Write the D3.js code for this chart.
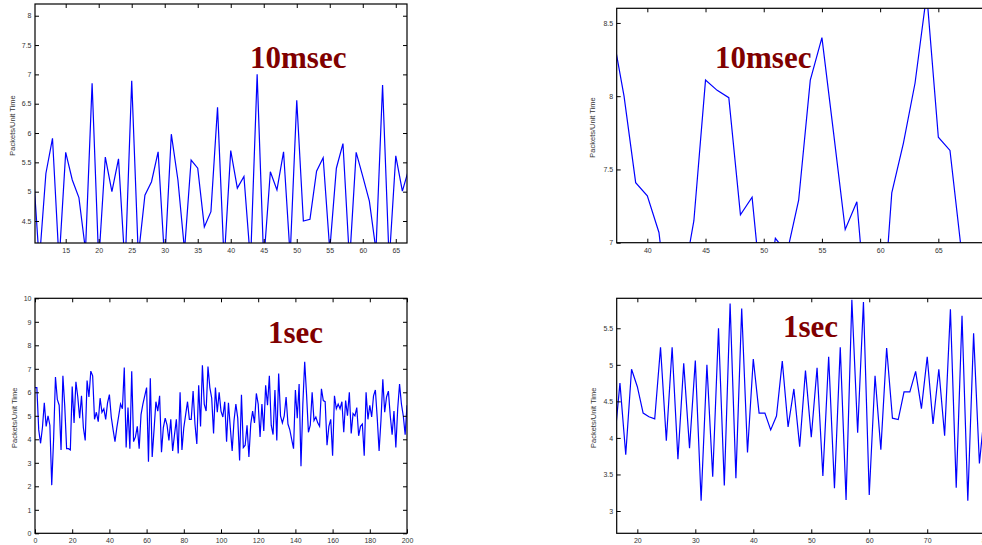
<!DOCTYPE html>
<html><head><meta charset="utf-8">
<script src="https://cdn.jsdelivr.net/npm/d3@7"></script>
<style>
html,body{margin:0;padding:0;background:#fff;overflow:hidden}
svg{display:block}
</style></head>
<body>
<svg id="chart" width="982" height="545"></svg>
<script>
// ---------- DATA ----------
const yAxisLabel = "Packets/Unit Time";

// Panel 1 : 10msec (top-left), x = 10 .. 68
const p1Title = "10msec";
const p1StartX = 10;
const p1Values = [5.5, 3.8, 5.31, 5.91, 3.8, 5.67, 5.2, 4.9, 4.0, 6.85, 3.8, 5.59, 5.0, 5.56, 3.7, 6.89, 3.9, 4.94, 5.17, 5.68, 3.8, 5.98, 5.2, 4.0, 5.54, 5.4, 4.4, 4.66, 6.44, 3.8, 5.7, 5.06, 5.26, 3.8, 7.0, 3.8, 5.34, 5.03, 5.68, 3.9, 6.56, 4.5, 4.53, 5.35, 5.58, 4.0, 5.4, 5.82, 3.8, 5.67, 5.26, 4.84, 4.0, 6.82, 3.8, 5.61, 5.01, 5.4, 5.6];
const p1XTicks = [15, 20, 25, 30, 35, 40, 45, 50, 55, 60, 65];
const p1YTicks = [4.5, 5, 5.5, 6, 6.5, 7, 7.5, 8];

// Panel 2 : 10msec (top-right), x = 37 .. 69
const p2Title = "10msec";
const p2StartX = 37;
const p2Values = [8.44, 8.0, 7.41, 7.32, 7.07, 6.4, 6.7, 7.15, 8.11, 8.04, 7.99, 7.19, 7.31, 6.5, 7.03, 6.93, 7.29, 8.11, 8.40, 7.75, 7.09, 7.28, 6.35, 6.24, 7.34, 7.68, 8.09, 8.7, 7.72, 7.63, 6.93, 6.5, 6.6];
const p2XTicks = [40, 45, 50, 55, 60, 65];
const p2YTicks = [7, 7.5, 8, 8.5];

// Panel 3 : 1sec (bottom-left), x = 0 .. 200
const p3Title = "1sec";
const p3StartX = 0;
const p3Values = [6.2, 6.2, 4.4, 3.83, 4.5, 5.55, 4.55, 5.0, 4.6, 2.05, 4.0, 6.65, 5.7, 5.45, 3.55, 6.7, 5.4, 3.6, 3.6, 3.55,
  6.25, 4.7, 6.45, 5.8, 4.9, 5.85, 4.5, 3.95, 6.5, 5.8, 6.9, 6.7, 4.85, 5.15, 4.75, 5.75, 5.15, 5.3, 4.85, 5.55,
  5.9, 4.95, 4.4, 3.9, 4.5, 5.0, 5.5, 5.3, 7.05, 3.65, 5.35, 3.6, 6.9, 3.9, 4.1, 4.55, 3.6, 5.05, 5.5, 5.85,
  6.2, 3.05, 6.6, 3.25, 4.4, 5.6, 5.2, 5.85, 3.45, 4.5, 4.9, 4.6, 3.95, 4.85, 3.5, 4.2, 4.85, 3.4, 6.0, 3.55,
  4.5, 5.05, 5.6, 4.85, 4.85, 6.05, 4.65, 3.8, 6.3, 4.55, 7.15, 5.5, 5.2, 7.1, 6.2, 5.75, 4.25, 6.2, 5.15, 6.0,
  5.2, 4.95, 5.6, 3.9, 5.55, 4.5, 3.5, 4.8, 5.5, 4.9, 3.1, 5.9, 3.65, 3.75, 4.6, 3.25, 4.65, 5.2, 4.7, 5.95,
  5.5, 4.1, 5.5, 4.35, 6.3, 5.45, 6.7, 4.6, 4.2, 6.1, 3.95, 6.8, 5.0, 4.7, 5.0, 5.8, 4.65, 4.4, 4.0, 3.6,
  6.1, 4.9, 6.35, 2.85, 5.5, 7.3, 5.9, 4.3, 4.6, 6.0, 4.8, 4.95, 4.7, 4.55, 6.15, 5.65, 5.6, 3.75, 4.55, 4.85,
  3.3, 5.85, 5.3, 5.5, 5.3, 5.6, 4.3, 5.65, 5.0, 6.0, 4.25, 5.1, 5.0, 5.35, 4.15, 4.55, 4.65, 3.3, 6.0, 4.85,
  5.45, 4.95, 5.85, 6.1, 4.9, 3.5, 4.8, 6.55, 5.15, 5.8, 6.05, 5.0, 4.2, 5.2, 3.65, 5.3, 6.35, 5.5, 5.0, 4.2, 5.45];
const p3XTicks = [0, 20, 40, 60, 80, 100, 120, 140, 160, 180, 200];
const p3YTicks = [0, 1, 2, 3, 4, 5, 6, 7, 8, 9, 10];

// Panel 4 : 1sec (bottom-right), x = 16 .. 80
const p4Title = "1sec";
const p4StartX = 16;
const p4Values = [3.9, 4.75, 3.77, 4.94, 4.70, 4.34, 4.29, 4.26, 5.24, 3.96, 5.24, 3.71, 5.02, 3.86, 5.06, 3.14, 5.0, 3.47, 5.5, 3.35,
  5.84, 3.45, 5.77, 3.8, 5.08, 4.34, 4.34, 4.11, 4.3, 5.05, 4.15, 4.67, 3.88, 4.92, 4.01, 4.96, 3.48, 5.11, 3.31, 5.24,
  3.15, 5.89, 4.07, 5.86, 3.22, 4.85, 3.84, 5.23, 4.27, 4.25, 4.63, 4.63, 4.91, 4.4, 5.11, 4.19, 4.94, 4.03, 5.76, 3.32,
  5.67, 3.14, 5.43, 3.65, 4.45];
const p4XTicks = [20, 30, 40, 50, 60, 70, 80];
const p4YTicks = [3, 3.5, 4, 4.5, 5, 5.5];

// ---------- LAYOUT ----------
const panels = [
  {id: 1, title: p1Title, start: p1StartX, values: p1Values, xTicks: p1XTicks, yTicks: p1YTicks,
   xDom: [10.35, 66.7], yDom: [4.125, 8.2], left: 35, right: 407, top: 4, bottom: 243,
   labelX: 13, titleX: 250, titleY: 68},
  {id: 2, title: p2Title, start: p2StartX, values: p2Values, xTicks: p2XTicks, yTicks: p2YTicks,
   xDom: [37.37, 69.18], yDom: [7, 8.6], left: 616.7, right: 987, top: 8.3, bottom: 242.7,
   labelX: 593, titleX: 715, titleY: 68},
  {id: 3, title: p3Title, start: p3StartX, values: p3Values, xTicks: p3XTicks, yTicks: p3YTicks,
   xDom: [0, 200], yDom: [0, 10], left: 35, right: 407, top: 298.3, bottom: 533.3,
   labelX: 15, titleX: 268, titleY: 343},
  {id: 4, title: p4Title, start: p4StartX, values: p4Values, xTicks: p4XTicks, yTicks: p4YTicks,
   xDom: [16.44, 81], yDom: [2.695, 5.91], left: 616.7, right: 991, top: 298.3, bottom: 533.3,
   labelX: 594, titleX: 783, titleY: 337}
];

const svg = d3.select("#chart");
const fmt = d => String(d);
const TICK = 4;
const tickFont = "'Liberation Sans', Arial, sans-serif";

panels.forEach(p => {
  const x = d3.scaleLinear().domain(p.xDom).range([p.left, p.right]);
  const y = d3.scaleLinear().domain(p.yDom).range([p.bottom, p.top]);
  const g = svg.append("g");

  const clipId = "clip" + p.id;
  svg.append("clipPath").attr("id", clipId).append("rect")
    .attr("x", p.left).attr("y", p.top)
    .attr("width", p.right - p.left).attr("height", p.bottom - p.top);

  const line = d3.line().x((d, i) => x(p.start + i)).y(d => y(d));
  g.append("path").datum(p.values)
    .attr("clip-path", `url(#${clipId})`)
    .attr("fill", "none").attr("stroke", "#0000ff").attr("stroke-width", 1.2)
    .attr("d", line);

  const axStyle = sel => {
    sel.select(".domain").remove();
    sel.selectAll(".tick line").attr("stroke", "#000").attr("stroke-width", 1);
    sel.selectAll(".tick text").attr("fill", "#333").style("font-family", tickFont).style("font-size", "7px");
  };
  g.append("g").attr("transform", `translate(0,${p.bottom})`)
    .call(d3.axisBottom(x).tickValues(p.xTicks).tickFormat(fmt).tickSizeInner(-TICK).tickSizeOuter(0).tickPadding(5))
    .call(axStyle);
  g.append("g").attr("transform", `translate(0,${p.top})`)
    .call(d3.axisTop(x).tickValues(p.xTicks).tickFormat("").tickSizeInner(-TICK).tickSizeOuter(0))
    .call(axStyle);
  g.append("g").attr("transform", `translate(${p.left},0)`)
    .call(d3.axisLeft(y).tickValues(p.yTicks).tickFormat(fmt).tickSizeInner(-TICK).tickSizeOuter(0).tickPadding(3.5))
    .call(axStyle);
  g.append("g").attr("transform", `translate(${p.right},0)`)
    .call(d3.axisRight(y).tickValues(p.yTicks).tickFormat("").tickSizeInner(-TICK).tickSizeOuter(0))
    .call(axStyle);

  g.append("rect").attr("x", p.left).attr("y", p.top)
    .attr("width", p.right - p.left).attr("height", p.bottom - p.top)
    .attr("fill", "none").attr("stroke", "#000").attr("stroke-width", 1.2);

  g.append("text")
    .attr("transform", `translate(${p.labelX},${(p.top + p.bottom) / 2 + 2}) rotate(-90)`)
    .attr("text-anchor", "middle").attr("dominant-baseline", "middle")
    .style("font-family", tickFont).style("font-size", "7.5px").attr("fill", "#333")
    .text(yAxisLabel);

  g.append("text").attr("x", p.titleX).attr("y", p.titleY)
    .style("font-family", "'Liberation Serif', 'Times New Roman', serif")
    .style("font-weight", "bold").style("font-size", "31px")
    .attr("fill", "#800000").text(p.title);
});
</script>
</body></html>
